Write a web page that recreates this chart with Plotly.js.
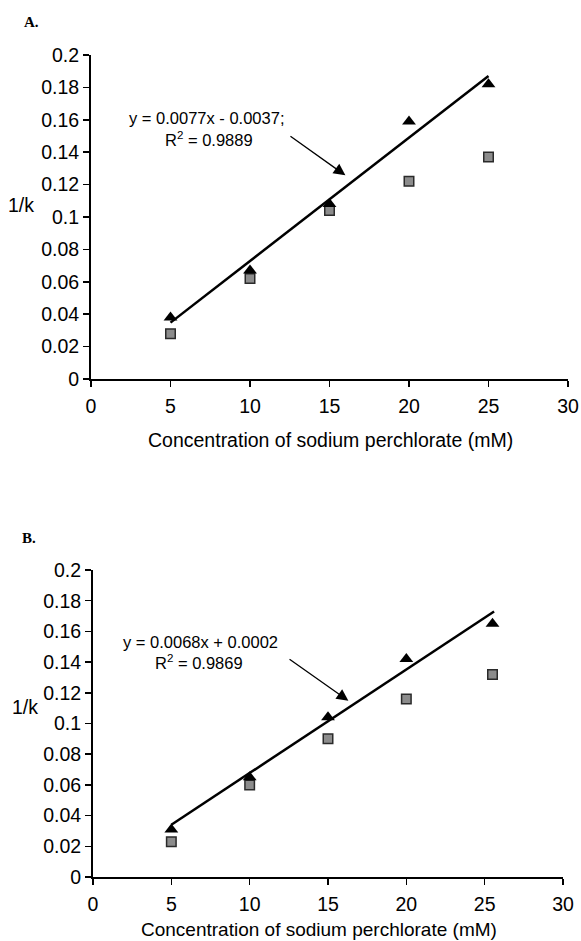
<!DOCTYPE html>
<html><head><meta charset="utf-8">
<script src="https://cdn.plot.ly/plotly-3.0.1.min.js"></script>
<style>html,body{margin:0;padding:0;background:#fff}#c{width:581px;height:941px}</style>
</head><body><div id="c"></div>
<script>
// Panel A data
const xA = [5, 10, 15, 20, 25];
const triA = [0.038, 0.067, 0.108, 0.159, 0.182];
const sqA = [0.028, 0.062, 0.104, 0.122, 0.137];
const fitAx = [5, 25];
const fitAy = [0.0348, 0.187];
// Panel B data
const xB = [5, 10, 15, 20, 25.5];
const triB = [0.031, 0.065, 0.104, 0.142, 0.165];
const sqB = [0.023, 0.060, 0.090, 0.116, 0.132];
const fitBx = [5, 25.6];
const fitBy = [0.034, 0.173];
// ticks
const xTicks = [0, 5, 10, 15, 20, 25, 30];
const yTicks = [0, 0.02, 0.04, 0.06, 0.08, 0.1, 0.12, 0.14, 0.16, 0.18, 0.2];
const yTickText = ["0", "0.02", "0.04", "0.06", "0.08", "0.1", "0.12", "0.14", "0.16", "0.18", "0.2"];
// texts
const eqA = ["y = 0.0077x - 0.0037;", "R<sup>2</sup> = 0.9889"];
const eqB = ["y = 0.0068x + 0.0002", "R<sup>2</sup> = 0.9869"];
const xTitle = "Concentration of sodium perchlorate (mM)";
const yTitle = "1/k";

const triMarker = {symbol: 'triangle-up', size: 12, color: '#000'};
const sqMarker = {symbol: 'square', size: 9.5, color: '#8c8c8c', line: {color: '#2a2a2a', width: 1.5}};

const traces = [
  {x: fitAx, y: fitAy, xaxis: 'x', yaxis: 'y', mode: 'lines', line: {color: '#000', width: 2.5}},
  {x: xA, y: sqA, xaxis: 'x', yaxis: 'y', mode: 'markers', marker: sqMarker},
  {x: xA, y: triA, xaxis: 'x', yaxis: 'y', mode: 'markers', marker: triMarker},
  {x: fitBx, y: fitBy, xaxis: 'x2', yaxis: 'y2', mode: 'lines', line: {color: '#000', width: 2.5}},
  {x: xB, y: sqB, xaxis: 'x2', yaxis: 'y2', mode: 'markers', marker: sqMarker},
  {x: xB, y: triB, xaxis: 'x2', yaxis: 'y2', mode: 'markers', marker: triMarker}
];

const font = {family: 'Liberation Sans, Arial, sans-serif', size: 19.5, color: '#000'};
function xax(anchor, dom) {
  return {domain: dom, anchor: anchor, range: [0, 30], tickmode: 'array', tickvals: xTicks,
    ticks: 'outside', ticklen: 6, tickwidth: 1.5, tickcolor: '#000', showline: true, linecolor: '#000', linewidth: 2,
    showgrid: false, zeroline: false, tickfont: font, ticklabelstandoff: 3, fixedrange: true, automargin: false};
}
function yax(anchor, dom) {
  return {domain: dom, anchor: anchor, range: [0, 0.2], tickmode: 'array', tickvals: yTicks, ticktext: yTickText,
    ticks: 'outside', ticklen: 6, tickwidth: 1.5, tickcolor: '#000', showline: true, linecolor: '#000', linewidth: 2,
    showgrid: false, zeroline: false, tickfont: font, fixedrange: true, automargin: false};
}

const eqFont = {family: 'Liberation Sans, Arial, sans-serif', size: 16.5, color: '#000'};
const layout = {
  width: 581, height: 941, showlegend: false,
  paper_bgcolor: '#fff', plot_bgcolor: 'rgba(0,0,0,0)',
  margin: {l: 0, r: 0, t: 0, b: 0},
  xaxis: xax('y', [91/581, 568/581]),
  yaxis: yax('x', [1 - 379/941, 1 - 55/941]),
  xaxis2: xax('y2', [93/581, 563/581]),
  yaxis2: yax('x2', [1 - 877/941, 1 - 570/941]),
  annotations: [
    {xref: 'paper', yref: 'paper', x: 22/581, y: 1 - 22/941, text: '<b>A.</b>', showarrow: false, xanchor: 'left', yanchor: 'middle',
      font: {family: 'Liberation Serif, Times New Roman, serif', size: 15, color: '#000'}},
    {xref: 'paper', yref: 'paper', x: 20/581, y: 1 - 538/941, text: '<b>B.</b>', showarrow: false, xanchor: 'left', yanchor: 'middle',
      font: {family: 'Liberation Serif, Times New Roman, serif', size: 15, color: '#000'}},
    {xref: 'paper', yref: 'paper', x: 21/581, y: 1 - 205/941, text: yTitle, showarrow: false, xanchor: 'center', yanchor: 'middle', font: font},
    {xref: 'paper', yref: 'paper', x: 25/581, y: 1 - 707/941, text: yTitle, showarrow: false, xanchor: 'center', yanchor: 'middle', font: font},
    {xref: 'paper', yref: 'paper', x: 330/581, y: 1 - 440/941, text: xTitle, showarrow: false, xanchor: 'center', yanchor: 'middle', font: font},
    {xref: 'paper', yref: 'paper', x: 319/581, y: 1 - 929/941, text: xTitle, showarrow: false, xanchor: 'center', yanchor: 'middle',
      font: {family: font.family, size: 19, color: '#000'}},
    {xref: 'paper', yref: 'paper', x: 207/581, y: 1 - 118/941, text: eqA[0], showarrow: false, xanchor: 'center', yanchor: 'middle', font: eqFont},
    {xref: 'paper', yref: 'paper', x: 209/581, y: 1 - 139/941, text: eqA[1], showarrow: false, xanchor: 'center', yanchor: 'middle', font: eqFont},
    {xref: 'paper', yref: 'paper', x: 200/581, y: 1 - 642/941, text: eqB[0], showarrow: false, xanchor: 'center', yanchor: 'middle', font: eqFont},
    {xref: 'paper', yref: 'paper', x: 199/581, y: 1 - 662/941, text: eqB[1], showarrow: false, xanchor: 'center', yanchor: 'middle', font: eqFont},
    {xref: 'x', yref: 'y', axref: 'x', ayref: 'y', x: 16.0, y: 0.1257, ax: 12.45, ay: 0.1505, text: '', showarrow: true,
      arrowhead: 2, arrowsize: 1.8, arrowwidth: 1.3, arrowcolor: '#000'},
    {xref: 'x2', yref: 'y2', axref: 'x2', ayref: 'y2', x: 16.3, y: 0.1148, ax: 12.45, ay: 0.1425, text: '', showarrow: true,
      arrowhead: 2, arrowsize: 1.8, arrowwidth: 1.3, arrowcolor: '#000'}
  ]
};
Plotly.newPlot('c', traces, layout, {staticPlot: true, displayModeBar: false});
</script></body></html>
